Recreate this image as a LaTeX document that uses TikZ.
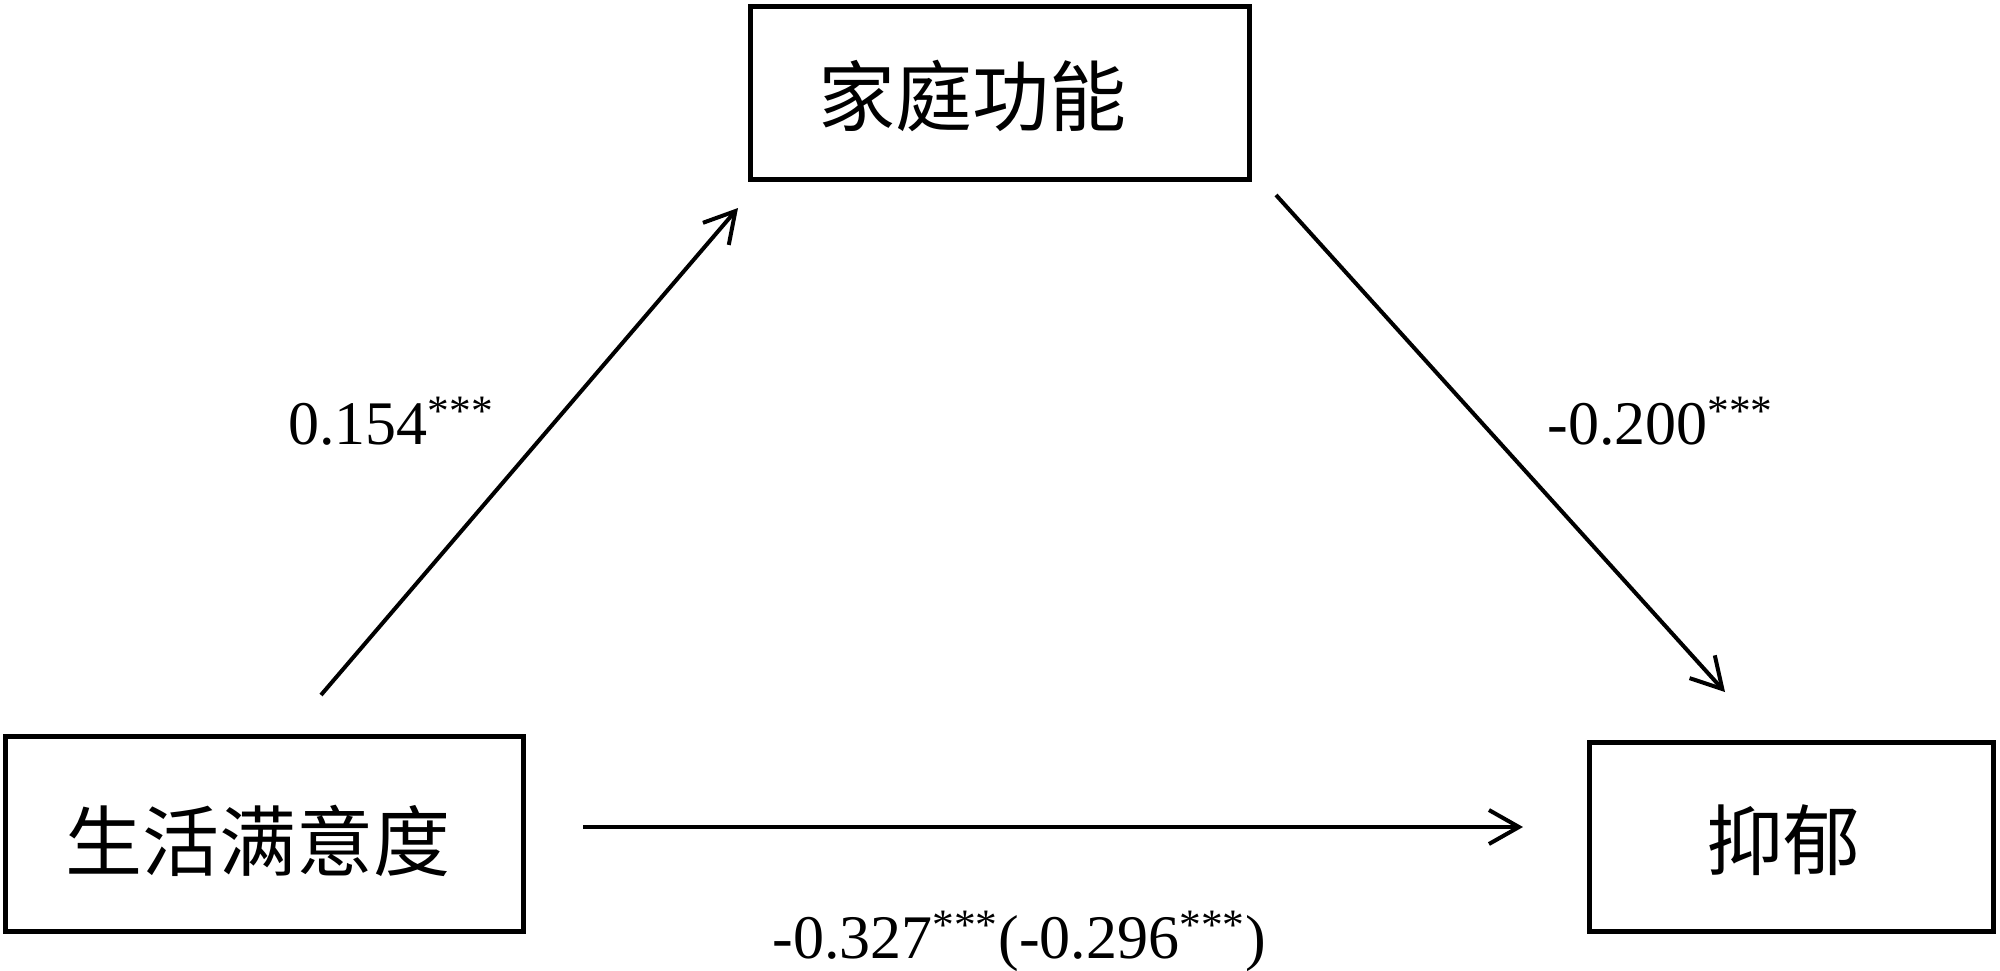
\documentclass[tikz,border=0pt]{standalone}
\usepackage{fontspec}
\setmainfont{Liberation Serif}
\newfontfamily\cjk{Noto Sans CJK SC}
\usetikzlibrary{arrows.meta}
\begin{document}
\begin{tikzpicture}[x=0.5pt,y=-0.5pt,
  box/.style={draw=black,line width=2.5pt,inner sep=0pt,rectangle},
  boxtext/.style={inner sep=0pt,font=\cjk\fontsize{38.5}{42}\selectfont},
  coef/.style={inner sep=0pt,anchor=base west,font=\fontsize{31}{36}\selectfont},
  conn/.style={line width=2pt,-{Straight Barb[length=15pt,width=17pt,line width=2pt]}}]
\useasboundingbox (0,0) rectangle (2000,970);
% boxes
\node[box,minimum width=249.5pt,minimum height=86.5pt] (fam) at (1000,93) {};
\node[box,minimum width=259pt,minimum height=97.5pt] (life) at (264.5,834) {};
\node[box,minimum width=202pt,minimum height=94.5pt] (dep) at (1791.5,837) {};
% box texts
\node[boxtext] (famt) at (972,96) {家庭功能};
\node[boxtext] (lifet) at (258,841) {生活满意度};
\node[boxtext] (dept) at (1783,840) {抑郁};
% arrow endpoints
\coordinate (a1s) at (321,695);
\coordinate (a1e) at (738,208);
\coordinate (a2s) at (1276,195);
\coordinate (a2e) at (1725,692);
\coordinate (a3s) at (583,827);
\coordinate (a3e) at (1523,827);
\draw[conn] (a1s) -- (a1e);
\draw[conn] (a2s) -- (a2e);
\draw[conn] (a3s) -- (a3e);
% coefficients
\node[coef] (c1) at (288,444) {0.154\textsuperscript{***}};
\node[coef] (c2) at (1547,444) {-0.200\textsuperscript{***}};
\node[coef] (c3) at (772,958) {-0.327\textsuperscript{***}(-0.296\textsuperscript{***})};
\end{tikzpicture}
\end{document}
